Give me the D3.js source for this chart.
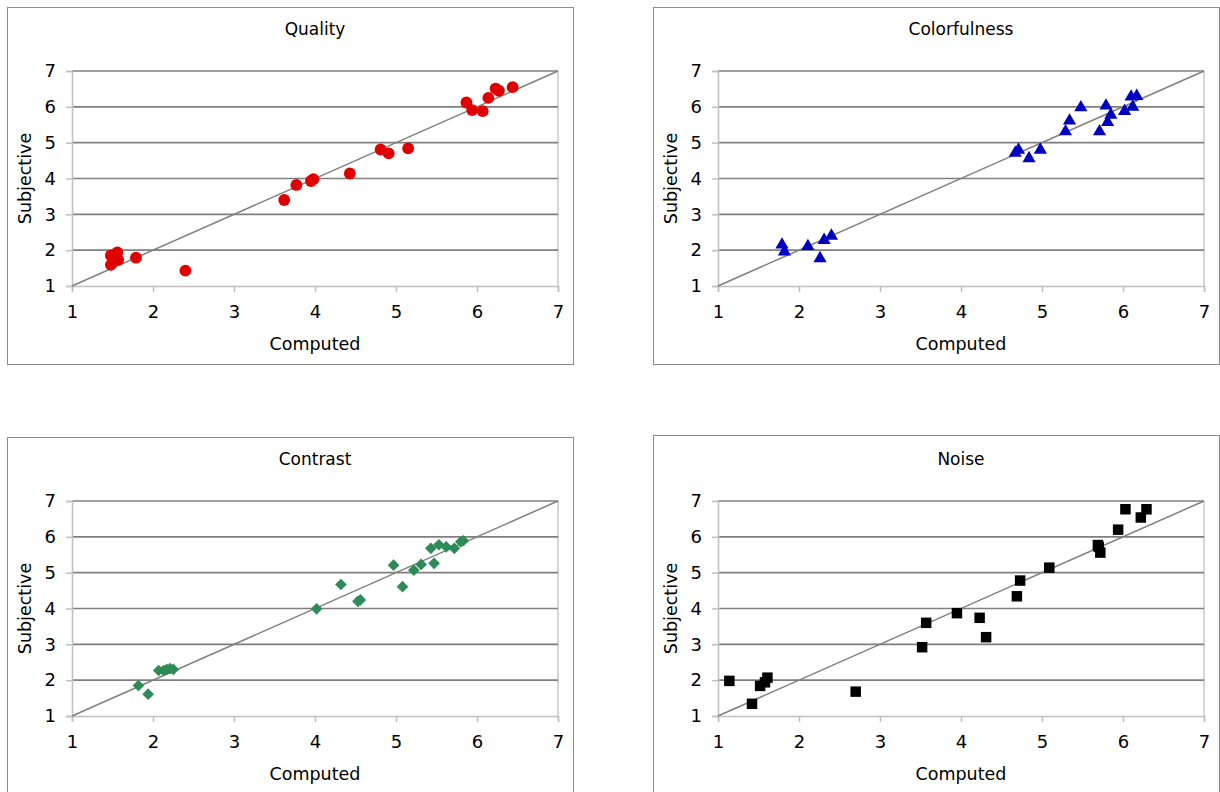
<!DOCTYPE html>
<html>
<head>
<meta charset="utf-8">
<script src="https://cdn.jsdelivr.net/npm/d3@7"></script>
<style>
  body { margin: 0; background: #fff; }
  text { font-family: "DejaVu Sans", Verdana, sans-serif; fill: #000; }
</style>
</head>
<body>
<div class="container"></div>
<script>
// values
let ticks = [1, 2, 3, 4, 5, 6, 7]
let titles = ["Quality", "Colorfulness", "Contrast", "Noise"]

let qualityX = [1.48, 1.56, 1.48, 1.57, 1.79, 2.40, 3.62, 3.77, 3.95, 3.98, 4.43, 4.81, 4.91, 5.15, 5.87, 5.94, 6.07, 6.14, 6.23, 6.27, 6.44]
let qualityY = [1.85, 1.94, 1.59, 1.73, 1.79, 1.43, 3.40, 3.82, 3.93, 3.98, 4.14, 4.81, 4.70, 4.84, 6.12, 5.91, 5.88, 6.25, 6.51, 6.45, 6.55]

let colorX = [1.79, 1.82, 2.11, 2.26, 2.31, 2.40, 4.67, 4.71, 4.84, 4.98, 5.29, 5.34, 5.48, 5.71, 5.79, 5.81, 5.85, 6.02, 6.10, 6.12, 6.17]
let colorY = [2.15, 1.96, 2.11, 1.77, 2.28, 2.40, 4.71, 4.80, 4.56, 4.80, 5.31, 5.61, 5.98, 5.31, 6.03, 5.57, 5.77, 5.88, 6.28, 6.00, 6.30]

let contrastX = [1.82, 1.94, 2.07, 2.13, 2.17, 2.21, 2.25, 4.02, 4.32, 4.53, 4.56, 4.97, 5.08, 5.22, 5.31, 5.43, 5.47, 5.53, 5.62, 5.72, 5.80, 5.83]
let contrastY = [1.85, 1.61, 2.27, 2.27, 2.30, 2.32, 2.30, 3.99, 4.67, 4.20, 4.24, 5.21, 4.61, 5.07, 5.23, 5.68, 5.26, 5.78, 5.72, 5.68, 5.86, 5.89]

let noiseX = [1.14, 1.42, 1.52, 1.58, 1.61, 2.70, 3.52, 3.57, 3.95, 4.23, 4.31, 4.69, 4.73, 5.09, 5.69, 5.70, 5.72, 5.94, 6.03, 6.22, 6.29]
let noiseY = [1.98, 1.34, 1.84, 1.94, 2.07, 1.68, 2.92, 3.60, 3.87, 3.74, 3.20, 4.34, 4.78, 5.14, 5.77, 5.72, 5.56, 6.20, 6.77, 6.54, 6.77]

const width = 1220
const height = 792

const svg = d3.select(".container").append("svg")
    .attr("width", width)
    .attr("height", height)

const panels = [
    {title: titles[0], xs: qualityX, ys: qualityY, dx: 0, dy: 0, boxY: 7.5, boxH: 357, color: "#e00000", symbol: d3.symbolCircle, size: 110, rot: 0},
    {title: titles[1], xs: colorX, ys: colorY, dx: 646, dy: 0, boxY: 7.5, boxH: 357, color: "#0000c0", symbol: d3.symbolTriangle, size: 75, rot: 0},
    {title: titles[2], xs: contrastX, ys: contrastY, dx: 0, dy: 430, boxY: 7.5, boxH: 400, color: "#2e8b57", symbol: d3.symbolSquare, size: 68, rot: 45},
    {title: titles[3], xs: noiseX, ys: noiseY, dx: 646, dy: 430, boxY: 5.5, boxH: 400, color: "#000000", symbol: d3.symbolSquare, size: 110, rot: 0}
]

const x = d3.scaleLinear().domain([1, 7]).range([72, 558])
const y = d3.scaleLinear().domain([1, 7]).range([286, 71])

panels.forEach(p => drawPanel(p))

function drawPanel(p) {
    const g = svg.append("g").attr("transform", `translate(${p.dx},${p.dy})`)

    // outer chart border
    g.append("rect")
        .attr("x", 7.5).attr("y", p.boxY)
        .attr("width", 566).attr("height", p.boxH)
        .attr("fill", "none")
        .attr("stroke", "#8c8c8c")
        .attr("stroke-width", 1)

    // right edge of plot area
    g.append("line")
        .attr("x1", x(7)).attr("x2", x(7))
        .attr("y1", y(7)).attr("y2", y(1))
        .attr("stroke", "#c8c8c8")
        .attr("stroke-width", 1.5)

    // horizontal gridlines
    g.selectAll(".grid")
        .data(ticks.slice(1))
        .enter()
        .append("line")
        .attr("class", "grid")
        .attr("x1", x(1)).attr("x2", x(7))
        .attr("y1", d => y(d)).attr("y2", d => y(d))
        .attr("stroke", "#7f7f7f")
        .attr("stroke-width", 1.6)

    const xAxis = g.append("g")
        .attr("transform", `translate(0,${y(1)})`)
        .call(d3.axisBottom(x).tickValues(ticks).tickSize(6).tickPadding(13).tickFormat(d3.format("d")))
    const yAxis = g.append("g")
        .attr("transform", `translate(${x(1)},0)`)
        .call(d3.axisLeft(y).tickValues(ticks).tickSize(6).tickPadding(10).tickFormat(d3.format("d")))

    ;[xAxis, yAxis].forEach(a => {
        a.select(".domain").attr("stroke", "#c0c0c0").attr("stroke-width", 1.5)
        a.selectAll(".tick line").attr("stroke", "#c0c0c0").attr("stroke-width", 1.5)
        a.selectAll(".tick text")
            .style("font-family", "'DejaVu Sans', Verdana, sans-serif")
            .style("font-size", "18px")
            .attr("fill", "#000")
    })

    // y = x reference line
    g.append("line")
        .attr("x1", x(1)).attr("y1", y(1))
        .attr("x2", x(7)).attr("y2", y(7))
        .attr("stroke", "#808080")
        .attr("stroke-width", 1.5)

    const pts = p.xs.map((v, i) => [v, p.ys[i]])
    g.selectAll(".pt")
        .data(pts)
        .enter()
        .append("path")
        .attr("class", "pt")
        .attr("d", d3.symbol().type(p.symbol).size(p.size))
        .attr("transform", d => `translate(${x(d[0])},${y(d[1])}) rotate(${p.rot})`)
        .attr("fill", p.color)

    g.append("text")
        .attr("x", (x(1) + x(7)) / 2)
        .attr("y", 35)
        .attr("text-anchor", "middle")
        .style("font-size", "17px")
        .text(p.title)

    g.append("text")
        .attr("x", (x(1) + x(7)) / 2)
        .attr("y", 350)
        .attr("text-anchor", "middle")
        .style("font-size", "17.5px")
        .text("Computed")

    g.append("text")
        .attr("transform", `translate(31,${(y(1) + y(7)) / 2}) rotate(-90)`)
        .attr("text-anchor", "middle")
        .style("font-size", "17.5px")
        .text("Subjective")
}
</script>
</body>
</html>
